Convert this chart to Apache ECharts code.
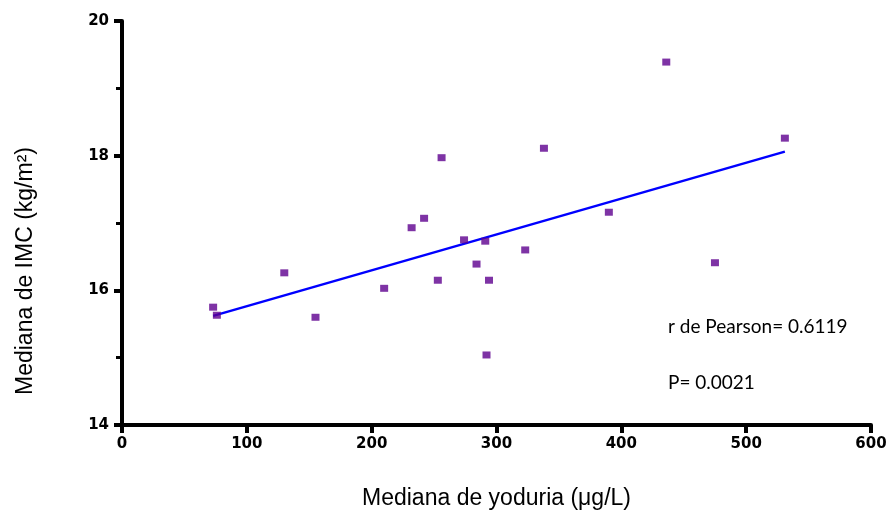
<!DOCTYPE html>
<html><head><meta charset="utf-8">
<script src="https://cdn.jsdelivr.net/npm/echarts@6/dist/echarts.min.js"></script>
<style>html,body{margin:0;padding:0;background:#fff}#c{width:887px;height:512px}</style>
</head><body><div id="c"></div>
<script>
const yodura = [73, 76, 130, 155, 210, 232, 242, 253, 256, 274, 284, 291, 292, 294, 323, 338, 390, 436, 475, 531];
const imc = [15.75, 15.63, 16.26, 15.60, 16.03, 16.93, 17.07, 16.15, 17.97, 16.75, 16.39, 16.73, 15.04, 16.15, 16.60, 18.11, 17.16, 19.39, 16.41, 18.26];
const fitX = [73, 531];
const fitY = [15.62, 18.06];
const xTicks = [0, 100, 200, 300, 400, 500, 600];
const yTicks = [14, 16, 18, 20];
const statR = 'r de Pearson= 0.6119';
const statP = 'P= 0.0021';

const chart = echarts.init(document.getElementById('c'), null, {renderer: 'canvas'});
const axisFont = {fontFamily: '"DejaVu Sans", sans-serif', fontWeight: 'bold', fontSize: 15, color: '#000'};
chart.setOption({
  animation: false,
  grid: {left: 122, right: 16, top: 21, bottom: 87, containLabel: false, outerBoundsMode: 'none'},
  xAxis: {
    type: 'value', min: xTicks[0], max: xTicks[xTicks.length - 1], interval: 100,
    axisLine: {lineStyle: {color: '#000', width: 4}},
    axisTick: {show: true, length: 8, lineStyle: {color: '#000', width: 4}},
    splitLine: {show: false},
    axisLabel: Object.assign({margin: 12}, axisFont),
    name: 'Mediana de yoduria (μg/L)', nameLocation: 'middle', nameGap: 62,
    nameTextStyle: {fontFamily: '"Liberation Sans", Arial', fontSize: 23, color: '#000'}
  },
  yAxis: {
    type: 'value', min: yTicks[0], max: yTicks[yTicks.length - 1], interval: 2,
    axisLine: {lineStyle: {color: '#000', width: 4}},
    axisTick: {show: true, length: 8, lineStyle: {color: '#000', width: 4}},
    minorTick: {show: true, splitNumber: 2, length: 6, lineStyle: {color: '#000', width: 3}},
    splitLine: {show: false},
    axisLabel: Object.assign({margin: 13}, axisFont)
  },
  graphic: [
    {type: 'text', x: 26, y: 271, rotation: Math.PI / 2,
     style: {text: 'Mediana de IMC (kg/m²)', font: '23px "Liberation Sans", Arial', fill: '#000', textAlign: 'center', textVerticalAlign: 'middle'}},
    {type: 'text', x: 668, y: 327,
     style: {text: statR, font: '19px Lato, "Open Sans", sans-serif', fill: '#000', textAlign: 'left', textVerticalAlign: 'middle'}},
    {type: 'text', x: 668, y: 383,
     style: {text: statP, font: '19px Lato, "Open Sans", sans-serif', fill: '#000', textAlign: 'left', textVerticalAlign: 'middle'}}
  ],
  series: [
    {type: 'line', data: fitX.map((x, i) => [x, fitY[i]]), showSymbol: false, symbol: 'none',
     lineStyle: {color: '#0000ff', width: 2.5}, z: 2},
    {type: 'scatter', data: yodura.map((x, i) => [x, imc[i]]), symbol: 'rect', symbolSize: [8, 7],
     itemStyle: {color: '#5e008f'}, z: 3}
  ]
});
</script></body></html>
